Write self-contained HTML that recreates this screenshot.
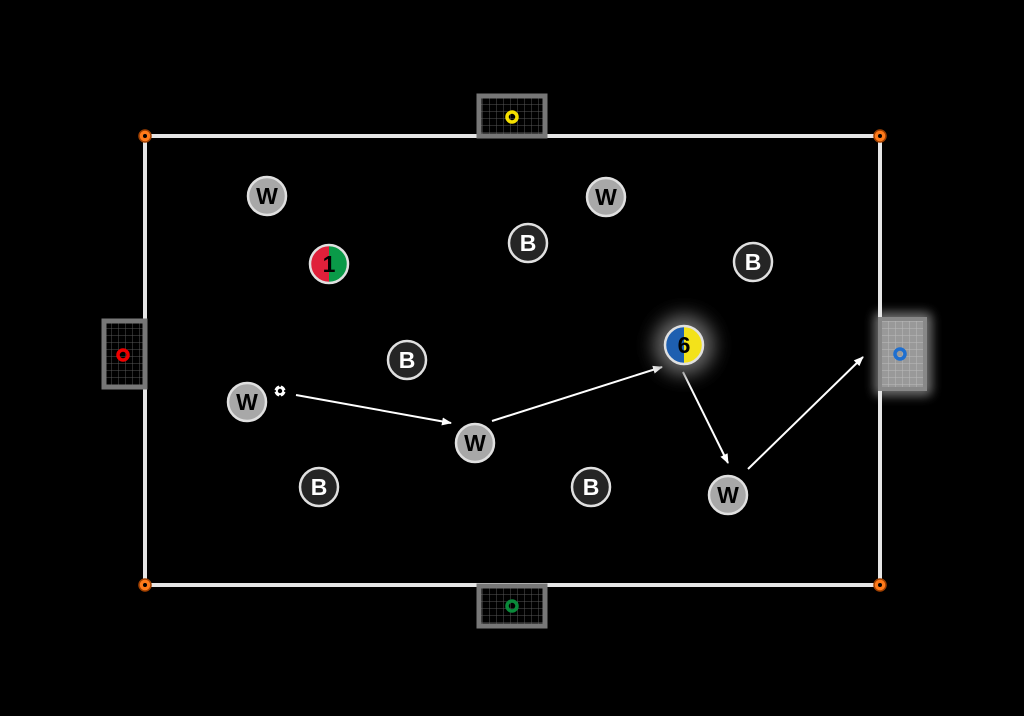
<!DOCTYPE html>
<html><head><meta charset="utf-8"><style>html,body{margin:0;padding:0;background:#000;}svg{display:block}</style></head>
<body>
<svg width="1024" height="716" viewBox="0 0 1024 716" xmlns="http://www.w3.org/2000/svg" font-family="Liberation Sans, sans-serif">
<defs>
<pattern id="g" width="7" height="7" patternUnits="userSpaceOnUse"><path d="M7 0V7M0 7H7" stroke="#555" stroke-width="1" fill="none"/></pattern>
<pattern id="g2" width="7" height="7" patternUnits="userSpaceOnUse"><rect width="7" height="7" fill="#999"/><path d="M7 0V7M0 7H7" stroke="#bbb" stroke-width="1" fill="none"/></pattern>
<filter id="blur" x="-80%" y="-80%" width="260%" height="260%"><feGaussianBlur stdDeviation="9"/></filter>
<filter id="blur2" x="-50%" y="-50%" width="200%" height="200%"><feGaussianBlur stdDeviation="5"/></filter>
<marker id="a" markerWidth="10" markerHeight="10" refX="9" refY="5" orient="auto" markerUnits="userSpaceOnUse"><path d="M0 1L10 5L0 9Z" fill="#fff"/></marker>
</defs>
<rect width="1024" height="716" fill="#000"/>
<rect x="874" y="312" width="58" height="84" rx="6" fill="#888" filter="url(#blur2)" opacity="0.8"/>
<rect x="145" y="136" width="735" height="449" fill="none" stroke="#e6e6e6" stroke-width="4"/>
<rect x="479" y="96" width="66" height="40" fill="url(#g)" stroke="#777" stroke-width="5"/>
<circle cx="512" cy="117" r="5" fill="none" stroke="#f5e000" stroke-width="3.5"/>
<rect x="479" y="586" width="66" height="40" fill="url(#g)" stroke="#777" stroke-width="5"/>
<circle cx="512" cy="606" r="5" fill="none" stroke="#0a8a3a" stroke-width="3.5"/>
<rect x="104" y="321" width="41" height="66" fill="url(#g)" stroke="#777" stroke-width="5"/>
<circle cx="123" cy="355" r="5" fill="none" stroke="#e00" stroke-width="3.5"/>
<rect x="880" y="319" width="45" height="70" fill="url(#g2)" stroke="#888" stroke-width="4"/>
<circle cx="900" cy="354" r="5" fill="none" stroke="#1e6fd0" stroke-width="3.5"/>
<g fill="#ff7a1a" stroke="#a04000" stroke-width="1.5">
<circle cx="145" cy="136" r="6"/><circle cx="880" cy="136" r="6"/><circle cx="145" cy="585" r="6"/><circle cx="880" cy="585" r="6"/></g>
<g fill="#000"><circle cx="145" cy="136" r="2"/><circle cx="880" cy="136" r="2"/><circle cx="145" cy="585" r="2"/><circle cx="880" cy="585" r="2"/></g>
<g stroke="#fff" stroke-width="2" marker-end="url(#a)">
<line x1="296" y1="395" x2="451" y2="423"/>
<line x1="492" y1="421" x2="662" y2="367"/>
<line x1="683" y1="372" x2="728" y2="463"/>
<line x1="748" y1="469" x2="863" y2="357"/>
</g>
<g font-weight="bold" font-size="23" text-anchor="middle">
<g fill="#a8a8a8" stroke="#e0e0e0" stroke-width="2.5">
<circle cx="267" cy="196" r="19"/><circle cx="606" cy="197" r="19"/><circle cx="247" cy="402" r="19"/><circle cx="475" cy="443" r="19"/><circle cx="728" cy="495" r="19"/></g>
<g fill="#000">
<text x="267" y="204">W</text><text x="606" y="205">W</text><text x="247" y="410">W</text><text x="475" y="451">W</text><text x="728" y="503">W</text></g>
<g fill="#252525" stroke="#e0e0e0" stroke-width="2.5">
<circle cx="528" cy="243" r="19"/><circle cx="753" cy="262" r="19"/><circle cx="407" cy="360" r="19"/><circle cx="319" cy="487" r="19"/><circle cx="591" cy="487" r="19"/></g>
<g fill="#fff">
<text x="528" y="251">B</text><text x="753" y="270">B</text><text x="407" y="368">B</text><text x="319" y="495">B</text><text x="591" y="495">B</text></g>
</g>
<path d="M329 245A19 19 0 0 0 329 283Z" fill="#e0203a"/>
<path d="M329 245A19 19 0 0 1 329 283Z" fill="#0a9a48"/>
<circle cx="329" cy="264" r="19" fill="none" stroke="#e0e0e0" stroke-width="2.5"/>
<text x="329" y="272" font-size="23" font-weight="bold" text-anchor="middle" fill="#000">1</text>
<circle cx="684" cy="345" r="30" fill="#666" filter="url(#blur)"/>
<path d="M684 326A19 19 0 0 0 684 364Z" fill="#1e5fb0"/>
<path d="M684 326A19 19 0 0 1 684 364Z" fill="#f3e21a"/>
<circle cx="684" cy="345" r="19" fill="none" stroke="#e0e0e0" stroke-width="2.5"/>
<text x="684" y="353" font-size="23" font-weight="bold" text-anchor="middle" fill="#000">6</text>
<circle cx="280" cy="391" r="6" fill="#fff" stroke="#000" stroke-width="1"/>
<circle cx="280" cy="391" r="2.2" fill="#000"/>
<g fill="#000"><circle cx="280" cy="386" r="1"/><circle cx="285" cy="391" r="1"/><circle cx="275" cy="391" r="1"/><circle cx="280" cy="396" r="1"/></g>
</svg>
</body></html>
